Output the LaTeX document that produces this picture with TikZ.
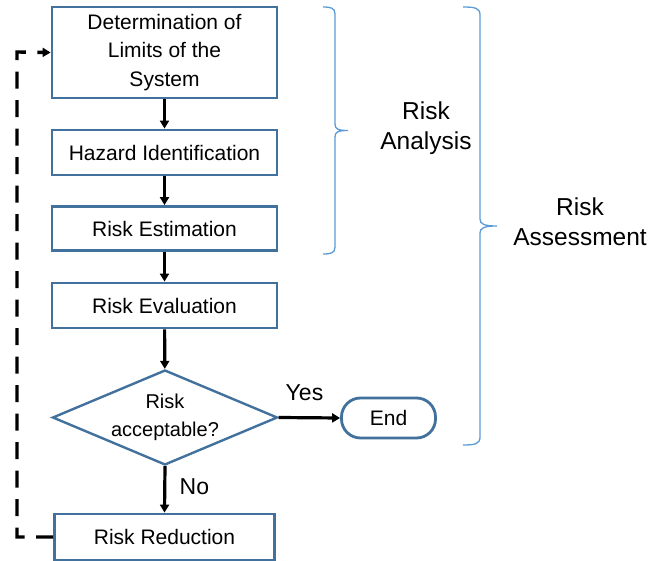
\documentclass[tikz,border=0pt]{standalone}
\usepackage{fontspec}
\setmainfont{Liberation Sans}
\usetikzlibrary{arrows.meta,shapes.geometric}
\definecolor{boxblue}{HTML}{41719C}
\definecolor{braceblue}{HTML}{5B9BD5}
\tikzset{
  stepbox/.style={draw=boxblue,line width=2.8pt,fill=white,minimum width=225pt,align=center,font=\fontsize{21}{28.5}\selectfont},
  decision/.style={diamond,draw=boxblue,line width=2.4pt,aspect=2.35,minimum width=225pt,minimum height=95pt,inner sep=0pt,align=center,font=\fontsize{20}{28}\selectfont},
  terminal/.style={draw=boxblue,line width=2.8pt,rounded corners=19pt,minimum width=94pt,minimum height=40pt,font=\fontsize{21}{24}\selectfont},
  flow/.style={line width=3.2pt,-{Triangle[length=8pt,width=9pt]}},
  back/.style={line width=3.4pt,dash pattern=on 17pt off 11.5pt,-{Triangle[length=8pt,width=9pt]}},
  brace/.style={draw=braceblue,line width=1.3pt},
  label/.style={align=center,font=\fontsize{24.5}{30}\selectfont},
  answer/.style={font=\fontsize{23}{26}\selectfont}
}
\begin{document}
\begin{tikzpicture}[x=1pt,y=-1pt]
\useasboundingbox (0,0) rectangle (651,561);
% process steps
\node[stepbox,minimum height=91pt] (limits) at (164.5,52.5) {Determination of\\Limits of the\\System};
\node[stepbox,minimum height=45pt] (hazard) at (164.5,152.5) {Hazard Identification};
\node[stepbox,minimum height=44pt] (estim) at (164.5,228.5) {Risk Estimation};
\node[stepbox,minimum height=45pt] (evalu) at (164.5,305.5) {Risk Evaluation};
\node[decision] (accept) at (165,417.5) {Risk\\acceptable?};
\node[terminal] (end) at (388.5,418) {End};
\node[stepbox,minimum width=220pt,minimum height=46pt] (reduce) at (164.5,537) {Risk Reduction};
% main flow
\draw[flow] (limits) -- (hazard);
\draw[flow] (hazard) -- (estim);
\draw[flow] (estim) -- (evalu);
\draw[flow] (evalu) -- (accept);
\draw[flow] (accept.east) -- node[answer,above=12pt,pos=0.42] {Yes} (end.west);
\draw[flow] (accept.south) -- node[answer,right=10pt,pos=0.45] {No} (reduce.north);
% feedback loop
\coordinate (lb) at (17,537);
\coordinate (lt) at (17,52);
\draw[back] (reduce.west) -- (lb) -- (lt) -- (limits.west);
% braces
\draw[brace] (323,7) .. controls (331,7) and (335,8) .. (335,14) -- (335,124) .. controls (335,129) and (338,130.5) .. (348,130.5) .. controls (338,130.5) and (335,132) .. (335,137) -- (335,247) .. controls (335,253) and (331,254) .. (323,254);
\node[label] (ra) at (426,128) {Risk\\Analysis};
\draw[brace] (463,7) .. controls (475,7) and (480,8) .. (480,15) -- (480,219) .. controls (480,224) and (484,226) .. (497,226) .. controls (484,226) and (480,228) .. (480,233) -- (480,437) .. controls (480,444) and (475,445) .. (463,445);
\node[label] (rs) at (580,222) {Risk\\Assessment};
\end{tikzpicture}
\end{document}
